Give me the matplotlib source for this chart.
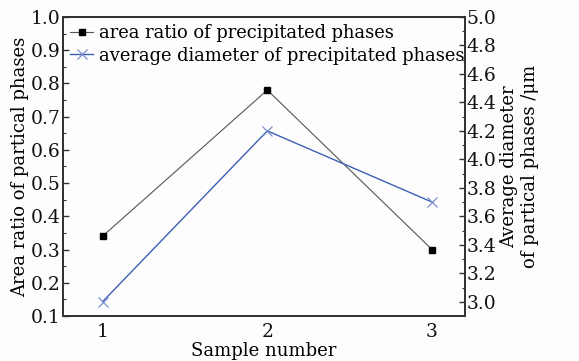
import matplotlib
matplotlib.use("Agg")
import matplotlib.pyplot as plt
from matplotlib.ticker import MultipleLocator

samples = [1, 2, 3]
area_ratio = [0.34, 0.78, 0.30]
avg_diameter = [3.0, 4.2, 3.7]
left_ticks = [0.1, 0.2, 0.3, 0.4, 0.5, 0.6, 0.7, 0.8, 0.9, 1.0]
right_ticks = [3.0, 3.2, 3.4, 3.6, 3.8, 4.0, 4.2, 4.4, 4.6, 4.8, 5.0]

plt.rcParams['font.family'] = ['DejaVu Serif']
plt.rcParams['mathtext.fontset'] = 'dejavuserif'

fig = plt.figure(figsize=(5.79, 3.61), dpi=100)
fig.patch.set_facecolor('#fdfdfd')
ax = fig.add_axes([0.1088, 0.1247, 0.6943, 0.8283])
ax.set_facecolor('#fdfdfd')
ax2 = ax.twinx()

spine_c = '#333333'
l1, = ax.plot(samples, area_ratio, color='#555555', lw=0.8, marker='s', ms=5,
              mfc='black', mec='black', label='area ratio of precipitated phases')
l2, = ax2.plot(samples, avg_diameter, color='#3c5fb4', lw=1.0, marker='x', ms=7,
               mec='#7d8fd0', mew=0.9, label='average diameter of precipitated phases')

ax.set_xlim(0.76, 3.2)
ax.set_ylim(0.1, 1.0)
ax2.set_ylim(2.9, 5.0)
ax.set_xticks(samples)
ax.set_yticks(left_ticks)
ax.set_yticklabels([f"{v:.1f}" for v in left_ticks])
ax2.set_yticks(right_ticks)
ax2.set_yticklabels([f"{v:.1f}" for v in right_ticks])
ax.yaxis.set_minor_locator(MultipleLocator(0.05))
ax2.yaxis.set_minor_locator(MultipleLocator(0.1))

for a in (ax, ax2):
    for s in a.spines.values():
        s.set_color(spine_c)
        s.set_linewidth(1.4)
    a.tick_params(direction='in', length=4, width=1, colors=spine_c, labelcolor='#111111', labelsize=13.5)
    a.tick_params(which='minor', direction='in', length=2.5, width=0.8, colors=spine_c)
ax.tick_params(axis='x', length=0, pad=5)
ax.tick_params(axis='y', pad=2)
ax2.tick_params(axis='y', pad=1)

ax.set_xlabel('Sample number', fontsize=13, labelpad=1)
ax.set_ylabel('Area ratio of partical phases', fontsize=13, labelpad=1)
ax2.set_ylabel('Average diameter\nof partical phases /μm', fontsize=13, labelpad=3, linespacing=1.15)

leg = ax.legend([l1, l2], [l1.get_label(), l2.get_label()], loc='upper left',
                frameon=False, fontsize=12.9, handlelength=1.3, handletextpad=0.3,
                borderaxespad=0.2, labelspacing=0.25, borderpad=0.2)

fig.savefig('out.png', dpi=100, facecolor=fig.get_facecolor())
